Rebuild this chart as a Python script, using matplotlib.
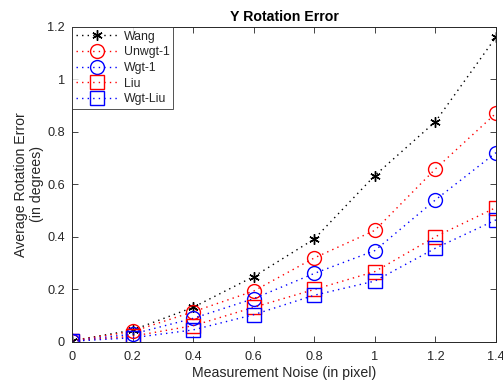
import matplotlib
matplotlib.use("Agg")
import matplotlib.pyplot as plt

noise = [0, 0.2, 0.4, 0.6, 0.8, 1.0, 1.2, 1.4]
wang = [0.005, 0.045, 0.132, 0.249, 0.392, 0.634, 0.839, 1.161]
unwgt1 = [0.005, 0.040, 0.115, 0.194, 0.320, 0.425, 0.659, 0.871]
wgt1 = [0.004, 0.030, 0.090, 0.165, 0.261, 0.348, 0.541, 0.721]
liu = [0.004, 0.022, 0.062, 0.132, 0.200, 0.268, 0.401, 0.512]
wgtliu = [0.003, 0.016, 0.046, 0.104, 0.178, 0.232, 0.357, 0.465]

series_names = ["Wang", "Unwgt-1", "Wgt-1", "Liu", "Wgt-Liu"]
xticks = [0, 0.2, 0.4, 0.6, 0.8, 1.0, 1.2, 1.4]
xticklabels = ["0", "0.2", "0.4", "0.6", "0.8", "1", "1.2", "1.4"]
yticks = [0, 0.2, 0.4, 0.6, 0.8, 1.0, 1.2]
yticklabels = ["0", "0.2", "0.4", "0.6", "0.8", "1", "1.2"]

plt.rcParams['font.family'] = ['Liberation Sans', 'DejaVu Sans']
fig = plt.figure(figsize=(5.03, 3.85), dpi=100)
ax = fig.add_axes([0.143, 0.1117, 0.843, 0.8185])

axc = '#262626'
styles = [
    dict(color='black', marker=(6, 2, 0), ms=7.5, mew=1.0, mfc='none'),
    dict(color='red', marker='o', ms=10, mew=1.0, mfc='none'),
    dict(color='blue', marker='o', ms=10, mew=1.0, mfc='none'),
    dict(color='red', marker='s', ms=9.5, mew=1.0, mfc='none'),
    dict(color='blue', marker='s', ms=9.5, mew=1.0, mfc='none'),
]
for ys, name, st in zip([wang, unwgt1, wgt1, liu, wgtliu], series_names, styles):
    ax.plot(noise, ys, linestyle=(0, (1, 3)), lw=1.0, label=name, **st)

ax.set_xlim(0, 1.4)
ax.set_ylim(0, 1.2)
ax.set_xticks(xticks)
ax.set_xticklabels(xticklabels)
ax.set_yticks(yticks)
ax.set_yticklabels(yticklabels)
ax.tick_params(direction='in', top=True, right=True, length=4, width=0.6,
               colors=axc, labelsize=9.2, labelcolor=axc)
ax.tick_params(axis='x', pad=6.5)
ax.tick_params(axis='y', pad=5)
for s in ax.spines.values():
    s.set_color(axc)
    s.set_linewidth(0.7)

ax.set_xlabel("Measurement Noise (in pixel)", fontsize=10.2, color=axc, labelpad=2)
ax.set_ylabel("Average Rotation Error\n(in degrees)", fontsize=10.2, color=axc, labelpad=2)
ax.set_title("Y Rotation Error", fontsize=10.2, fontweight='bold', color='black', pad=4)

leg = ax.legend(loc='upper left', fontsize=8.8, frameon=True, fancybox=False,
                edgecolor=axc, borderaxespad=0, handlelength=3.5, handletextpad=0.45,
                labelspacing=0.3, borderpad=0.3)
leg.get_frame().set_linewidth(0.7)
for t in leg.get_texts():
    t.set_color(axc)

fig.savefig("out.png", dpi=100)
